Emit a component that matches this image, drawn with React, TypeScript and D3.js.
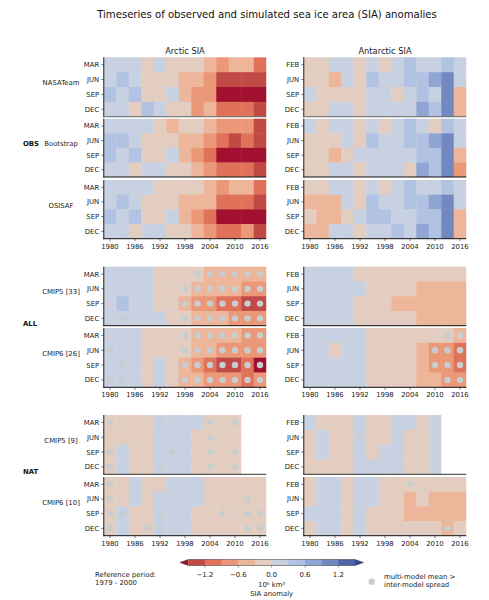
import React from "react";
import * as d3 from "d3";

// Every row holds 3-year bins centred on 1980, 1983, ... ; rows are MAR/FEB, JUN, SEP, DEC.
const binYears = d3.range(1980, 2017, 3);
const arcticMonths = ["MAR", "JUN", "SEP", "DEC"];
const antarcticMonths = ["FEB", "JUN", "SEP", "DEC"];
const tickYears = [1980, 1986, 1992, 1998, 2004, 2010, 2016];

const arcticNasaTeam = [
  [.15, .15, .15, -.15, .15, -.15, -.15, -.15, -.45, -.75, -.45, -.45, -1.05],
  [.15, .45, .15, -.15, -.15, -.15, -.45, -.45, -.75, -1.35, -1.35, -1.35, -1.35],
  [.45, .15, .45, -.15, -.15, .15, -.45, -.75, -.75, -1.65, -1.65, -1.65, -1.65],
  [.15, .15, -.15, .45, .15, -.15, -.15, -.75, -.45, -1.05, -1.05, -1.05, -1.35],
];
const arcticBootstrap = [
  [.15, .15, .15, .15, -.15, -.45, -.15, -.15, -.45, -.75, -.75, -.75, -1.35],
  [.45, .45, .15, -.15, -.15, -.15, -.45, -.45, -.75, -1.05, -1.35, -1.05, -1.35],
  [.45, .15, .45, -.15, -.15, .15, -.45, -.75, -1.05, -1.65, -1.65, -1.65, -1.65],
  [.15, .15, -.15, .15, .15, -.15, -.15, -.45, -.75, -1.05, -1.05, -1.05, -1.35],
];
const arcticOsisaf = [
  [.15, .15, .15, .15, -.15, -.15, -.15, -.15, -.45, -.75, -.45, -.45, -1.05],
  [.15, .45, .15, -.15, -.15, -.15, -.45, -.45, -.45, -1.05, -1.05, -1.05, -1.35],
  [.45, .15, .45, -.15, -.15, .15, -.45, -.75, -1.05, -1.65, -1.65, -1.65, -1.65],
  [.15, .15, -.15, .15, .15, -.15, -.15, -.45, -.75, -1.05, -1.05, -.75, -1.35],
];
const arcticAllCmip5 = [
  [.15, .15, .15, .15, -.15, -.15, -.15, -.15, -.45, -.45, -.45, -.45, -.45],
  [.15, .15, .15, .15, -.15, -.15, -.15, -.45, -.45, -.45, -.45, -.75, -.75],
  [.15, .45, .15, .15, -.15, -.15, -.45, -.75, -.75, -1.05, -1.05, -1.35, -1.35],
  [.15, .15, .15, .15, .15, -.15, -.15, -.45, -.45, -.45, -.75, -.75, -.75],
];
const arcticAllCmip6 = [
  [.15, .15, .15, -.15, -.15, -.15, -.15, -.45, -.45, -.45, -.45, -.75, -.75],
  [.15, .15, .15, -.15, -.15, -.15, -.15, -.45, -.45, -.75, -.75, -.75, -.75],
  [.15, .15, .15, -.15, .15, -.15, -.45, -.75, -1.05, -1.35, -1.35, -1.05, -1.65],
  [.15, .15, .15, -.15, .15, -.15, -.45, -.45, -.75, -.75, -.75, -1.05, -.75],
];
const arcticNatCmip5 = [
  [-.15, -.15, -.15, -.15, .15, .15, .15, .15, -.15, -.15, -.15],
  [-.15, -.15, -.15, -.15, .15, .15, .15, -.15, -.15, -.15, -.15],
  [-.15, .15, -.15, -.15, .15, .15, .15, -.15, -.15, -.15, -.15],
  [-.15, .15, -.15, -.15, .15, .15, .15, -.15, -.15, -.15, -.15],
];
const arcticNatCmip6 = [
  [-.15, -.15, .15, -.15, -.15, .15, .15, .15, -.15, -.15, -.15, -.15, -.15],
  [-.15, -.15, .15, -.15, .15, .15, .15, .15, -.15, -.15, -.15, -.15, -.15],
  [-.15, .15, -.15, -.15, .15, .15, .15, -.15, -.15, -.15, -.15, -.15, -.15],
  [-.15, .15, -.15, -.15, .15, .15, .15, -.15, -.15, -.15, -.15, -.15, -.15],
];

const antarcticNasaTeam = [
  [-.15, -.15, .15, .15, -.15, .15, -.15, .15, .45, .15, .15, .45, .15],
  [-.15, -.15, -.45, .15, -.15, .45, .15, .15, .45, .45, .75, 1.05, .15],
  [.15, -.15, -.15, -.15, -.15, .15, .15, -.15, .15, .45, .15, 1.05, -.45],
  [-.15, -.15, .15, .15, -.15, .15, .15, .15, .15, .75, .45, 1.05, -.45],
];
const antarcticBootstrap = [
  [.15, -.15, .15, .15, -.15, .15, -.15, .15, .45, .15, -.15, .45, .15],
  [-.15, -.15, -.15, .15, -.15, .45, .15, .15, .45, .45, .75, 1.05, .15],
  [-.15, -.15, -.45, -.15, .15, .15, .15, .15, .15, .45, .45, 1.05, -.45],
  [-.15, -.15, .15, .15, -.15, .15, .15, .15, -.15, .75, .45, 1.05, -.75],
];
const antarcticOsisaf = [
  [-.15, -.15, .15, .15, -.15, .15, -.15, .15, .45, .15, .15, .45, .15],
  [-.45, -.45, -.45, .15, -.15, .45, .15, .15, .45, .45, .75, 1.05, .15],
  [-.15, -.45, -.45, -.15, .15, .45, .45, .15, .15, .45, .45, 1.05, -.45],
  [-.45, -.45, .15, .15, -.15, .15, .15, .45, .15, .75, .45, 1.05, -.45],
];
const antarcticAllCmip5 = [
  [.15, .15, .15, .15, -.15, -.15, -.15, -.15, -.15, -.15, -.15, -.15, -.15],
  [.15, .15, .15, .15, .15, -.15, -.15, -.15, -.15, -.45, -.45, -.45, -.45],
  [.15, .15, .15, .15, -.15, -.15, -.15, -.45, -.45, -.45, -.45, -.45, -.45],
  [.15, .15, .15, .15, -.15, -.15, -.15, -.15, -.15, -.45, -.45, -.45, -.45],
];
const antarcticAllCmip6 = [
  [.15, .15, .15, .15, .15, -.15, -.15, -.15, -.15, -.15, -.15, -.15, -.45],
  [.15, .15, -.15, .15, .15, -.15, -.15, -.15, -.15, -.45, -.75, -.75, -1.05],
  [.15, .15, .15, .15, .15, -.15, -.15, -.15, -.15, -.45, -.75, -.75, -1.05],
  [.15, .15, .15, .15, .15, -.15, -.15, -.15, -.15, -.45, -.45, -.75, -.75],
];
const antarcticNatCmip5 = [
  [.15, -.15, -.15, -.15, .15, -.15, -.15, .15, .15, -.15, .15],
  [-.15, .15, -.15, -.15, .15, -.15, -.15, .15, -.15, -.15, .15],
  [-.15, .15, -.15, -.15, .15, -.15, .15, .15, -.15, -.15, .15],
  [-.15, -.15, -.15, -.15, .15, .15, .15, .15, -.15, -.15, .15],
];
const antarcticNatCmip6 = [
  [-.15, .15, .15, -.15, .15, .15, -.15, -.15, -.15, -.15, -.15, -.15, -.15],
  [-.15, .15, .15, -.15, .15, .15, -.15, -.15, -.45, -.15, -.45, -.45, -.45],
  [.15, .15, .15, -.15, .15, -.15, -.15, -.15, -.45, -.45, -.45, -.45, -.45],
  [-.15, .15, .15, -.15, .15, -.15, -.15, -.15, -.15, -.15, -.15, -.45, -.15],
];

// Years where the multi-model mean exceeds the inter-model spread, per row.
const dotsArcticAll5 = [
  [2001, 2004, 2007, 2010, 2013, 2016],
  [1998, 2001, 2004, 2007, 2010, 2013, 2016],
  [1998, 2001, 2004, 2007, 2010, 2013, 2016],
  [1983, 1998, 2001, 2004, 2007, 2010, 2013, 2016],
];
const dotsArcticAll6 = [
  [1998, 2001, 2004, 2007, 2010, 2013, 2016],
  [1980, 1998, 2001, 2004, 2007, 2010, 2013, 2016],
  [1983, 1998, 2001, 2004, 2007, 2010, 2013, 2016],
  [1980, 1983, 1998, 2001, 2004, 2007, 2010, 2013, 2016],
];
const dotsArcticNat5 = [[1980, 1992, 2004, 2010], [2004], [1980, 1995, 2004, 2010], [1980, 1992, 2004, 2010]];
const dotsArcticNat6 = [[1980], [1980, 2013], [1980, 1983, 1992, 2007, 2013, 2016], [1980, 1989, 1992, 2013, 2016]];
const dotsAntarcticAll6 = [[2013, 2016], [2010, 2013, 2016], [2010, 2013, 2016], [2013, 2016]];
const dotsAntarcticNat5 = [[], [1992], [], []];
const dotsAntarcticNat6 = [[2004], [], [], [2013]];

const colorLevels = [-1.5, -1.2, -0.9, -0.6, -0.3, 0, 0.3, 0.6, 0.9, 1.2, 1.5];
const colorRange = ["#a1112f", "#c24a46", "#e0725a", "#ea9878", "#edb69b", "#e3cdc0", "#c8d1e2", "#b1c2e2", "#8fa6d4", "#7488c0", "#4e64a8", "#2f4a96"];
const colorTicks = [-1.2, -0.6, 0, 0.6, 1.2];

const color = d3.scaleThreshold<number, string>().domain(colorLevels).range(colorRange);
const FONT = "'DejaVu Sans'";
const TEXT = "#222";
const OVERLAP = 0.45;

type PanelProps = {
  x0: number; y0: number; y1: number; values: number[][]; months: string[];
  dots?: number[][]; axis?: boolean; spine?: string;
};

function Panel({ x0, y0, y1, values, months, dots, axis, spine = "#111" }: PanelProps) {
  const x = d3.scaleLinear().domain([1978.5, 2017.5]).range([x0, x0 + 162.5]);
  const y = d3.scaleBand<number>().domain(d3.range(months.length)).range([y0, y1]);
  const cw = x(1981.5) - x(1978.5);
  return (
    <g>
      {values.map((row, r) =>
        row.map((v, c) => (
          <rect
            key={`${r}-${c}`}
            x={x(binYears[c] - 1.5)}
            y={y(r)}
            width={cw + (c < row.length - 1 ? OVERLAP : 0)}
            height={y.bandwidth() + (r < values.length - 1 ? OVERLAP : 0)}
            fill={color(v)}
          />
        ))
      )}
      {dots?.map((yrs, r) =>
        yrs.map((yr) => (
          <circle key={`${r}-${yr}`} cx={x(yr)} cy={y(r)! + y.bandwidth() / 2} r={3.2} fill="#c8cdd0" />
        ))
      )}
      <line x1={x0} x2={x0} y1={y0} y2={y1 + 0.5} stroke="#333" strokeWidth={1.1} />
      <line x1={x0 - 0.5} x2={x0 + 162.5} y1={y1} y2={y1} stroke={spine} strokeWidth={1} />
      {months.map((m, r) => {
        const cy = y(r)! + y.bandwidth() / 2;
        return (
          <g key={m}>
            <line x1={x0 - 2.5} x2={x0} y1={cy} y2={cy} stroke="#222" strokeWidth={0.6} />
            <text x={x0 - 4.5} y={cy} dy="0.36em" textAnchor="end" fontSize={6.9} fill={TEXT} fontFamily={FONT}>{m}</text>
          </g>
        );
      })}
      {axis && tickYears.map((t) => (
        <g key={t}>
          <line x1={x(t)} x2={x(t)} y1={y1} y2={y1 + 2.5} stroke="#222" strokeWidth={0.6} />
          <text x={x(t)} y={y1 + 10} textAnchor="middle" fontSize={6.9} fill={TEXT} fontFamily={FONT}>{t}</text>
        </g>
      ))}
    </g>
  );
}

const ArcticX = 103.75;
const AntarcticX = 303.75;

const rows = [
  { y0: 57.3, y1: 116.7, name: "NASATeam", ny: 83, arc: arcticNasaTeam, ant: antarcticNasaTeam, spine: "#666" },
  { y0: 118.7, y1: 177, name: "Bootstrap", ny: 144, arc: arcticBootstrap, ant: antarcticBootstrap },
  { y0: 180, y1: 238.7, name: "OSISAF", ny: 205.5, arc: arcticOsisaf, ant: antarcticOsisaf, axis: true },
  { y0: 266.7, y1: 325.7, name: "CMIP5 [33]", ny: 291.7, arc: arcticAllCmip5, ant: antarcticAllCmip5, arcDots: dotsArcticAll5 },
  { y0: 328, y1: 387.3, name: "CMIP6 [26]", ny: 354, arc: arcticAllCmip6, ant: antarcticAllCmip6, arcDots: dotsArcticAll6, antDots: dotsAntarcticAll6, axis: true },
  { y0: 415, y1: 474.3, name: "CMIP5 [9]", ny: 441, arc: arcticNatCmip5, ant: antarcticNatCmip5, arcDots: dotsArcticNat5, antDots: dotsAntarcticNat5, spine: "#333" },
  { y0: 477, y1: 535.7, name: "CMIP6 [10]", ny: 502.7, arc: arcticNatCmip6, ant: antarcticNatCmip6, arcDots: dotsArcticNat6, antDots: dotsAntarcticNat6, axis: true },
];

const groups = [
  { label: "OBS", y: 144 },
  { label: "ALL", y: 323.5 },
  { label: "NAT", y: 472 },
];

function Colorbar() {
  const cb = d3.scaleLinear().domain([-1.5, 1.5]).range([188.3, 355]);
  const top = 559.5, bot = 565.5, mid = (top + bot) / 2;
  const bands = d3.pairs(colorLevels);
  const tipL = d3.path();
  tipL.moveTo(cb(-1.5), top); tipL.lineTo(180, mid); tipL.lineTo(cb(-1.5), bot); tipL.closePath();
  const tipR = d3.path();
  tipR.moveTo(cb(1.5), top); tipR.lineTo(363.5, mid); tipR.lineTo(cb(1.5), bot); tipR.closePath();
  const outline = d3.path();
  outline.moveTo(180, mid); outline.lineTo(cb(-1.5), top); outline.lineTo(cb(1.5), top); outline.lineTo(363.5, mid);
  outline.lineTo(cb(1.5), bot); outline.lineTo(cb(-1.5), bot); outline.closePath();
  return (
    <g>
      <path d={tipL.toString()} fill={color(-2)} />
      <path d={tipR.toString()} fill={color(2)} />
      {bands.map(([a, b], i) => (
        <rect key={a} x={cb(a)} y={top} width={cb(b) - cb(a) + (i < bands.length - 1 ? OVERLAP : 0)} height={bot - top} fill={color((a + b) / 2)} />
      ))}
      <path d={outline.toString()} fill="none" stroke="#333" strokeWidth={0.5} />
      {colorTicks.map((t) => (
        <g key={t}>
          <line x1={cb(t)} x2={cb(t)} y1={bot} y2={bot + 2} stroke="#222" strokeWidth={0.5} />
          <text x={cb(t)} y={576.5} textAnchor="middle" fontSize={6.9} fill={TEXT} fontFamily={FONT}>
            {t === 0 ? "0.0" : t < 0 ? `\u2212${Math.abs(t).toFixed(1)}` : t.toFixed(1)}
          </text>
        </g>
      ))}
      <text x={cb(0)} y={586.5} textAnchor="middle" fontSize={6.9} fill={TEXT} fontFamily={FONT}>10⁶ km²</text>
      <text x={cb(0)} y={595.5} textAnchor="middle" fontSize={6.9} fill={TEXT} fontFamily={FONT}>SIA anomaly</text>
    </g>
  );
}

export default function App() {
  return (
    <svg width={489} height={600} viewBox="0 0 489 600" style={{ position: "absolute", left: 0, top: 0, display: "block", background: "#fff" }}>
      <text x={267} y={17.5} textAnchor="middle" fontSize={10.1} fill="#111" fontFamily={FONT}>
        Timeseries of observed and simulated sea ice area (SIA) anomalies
      </text>
      <text x={185} y={53.5} textAnchor="middle" fontSize={8.3} fill={TEXT} fontFamily={FONT}>Arctic SIA</text>
      <text x={385} y={53.5} textAnchor="middle" fontSize={8.3} fill={TEXT} fontFamily={FONT}>Antarctic SIA</text>
      {rows.map((r) => (
        <g key={r.name}>
          <Panel x0={ArcticX} y0={r.y0} y1={r.y1} values={r.arc} months={arcticMonths} dots={r.arcDots} axis={r.axis} spine={r.spine} />
          <Panel x0={AntarcticX} y0={r.y0} y1={r.y1} values={r.ant} months={antarcticMonths} dots={r.antDots} axis={r.axis} spine={r.spine} />
          <text x={61} y={r.ny} dy="0.36em" textAnchor="middle" fontSize={6.9} fill={TEXT} fontFamily={FONT}>{r.name}</text>
        </g>
      ))}
      {groups.map((g) => (
        <text key={g.label} x={23} y={g.y} dy="0.36em" fontSize={6.9} fontWeight="bold" fill="#111" fontFamily={FONT}>{g.label}</text>
      ))}
      <Colorbar />
      <text x={95} y={576.5} fontSize={6.9} fill={TEXT} fontFamily={FONT}>Reference period:</text>
      <text x={95} y={584.5} fontSize={6.9} fill={TEXT} fontFamily={FONT}>1979 - 2000</text>
      <circle cx={371.7} cy={581.7} r={3.2} fill="#c8cdd0" />
      <text x={384} y={578.5} fontSize={6.9} fill={TEXT} fontFamily={FONT}>multi-model mean &gt;</text>
      <text x={384} y={586.5} fontSize={6.9} fill={TEXT} fontFamily={FONT}>inter-model spread</text>
    </svg>
  );
}
